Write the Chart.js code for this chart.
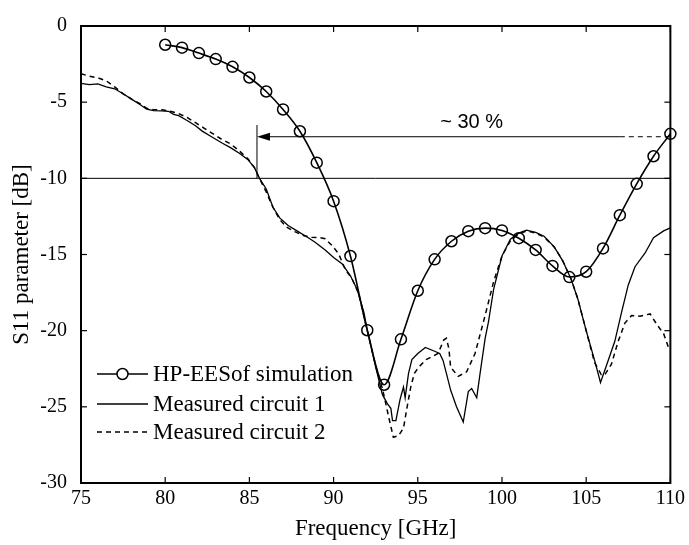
<!DOCTYPE html>
<html>
<head>
<meta charset="utf-8">
<script src="https://cdn.jsdelivr.net/npm/chart.js@4.4.0/dist/chart.umd.min.js"></script>
<style>
html,body{margin:0;padding:0;background:#fff;}
#wrap{width:689px;height:545px;}
</style>
</head>
<body>
<div id="wrap"><canvas id="c" width="689" height="545"></canvas></div>
<script>
// ---------------- DATA ----------------
const seriesNames = ['HP-EESof simulation', 'Measured circuit 1', 'Measured circuit 2'];

const simFreq = [80,81,82,83,84,85,86,87,88,89,90,91,92,93,94,95,96,97,98,99,100,101,102,103,104,105,106,107,108,109,110];
const simDb   = [-1.23,-1.42,-1.78,-2.17,-2.68,-3.38,-4.3,-5.48,-6.91,-8.97,-11.5,-15.1,-19.97,-23.55,-20.57,-17.38,-15.32,-14.13,-13.47,-13.27,-13.42,-13.93,-14.7,-15.75,-16.48,-16.13,-14.6,-12.42,-10.36,-8.55,-7.08];

const m1Freq = [75.0,75.5,76.0,76.5,77.0,77.5,78.0,78.5,78.9,79.3,79.8,80.2,80.5,80.8,81.3,81.8,82.2,82.8,83.4,83.9,84.4,84.9,85.3,85.6,86.0,86.4,86.8,87.3,87.9,88.5,88.9,89.5,90.0,90.5,91.0,91.4,91.8,92.0,92.5,92.9,93.2,93.4,93.5,93.7,93.95,94.15,94.25,94.45,94.65,95.0,95.45,96.0,96.3,96.5,96.7,96.95,97.3,97.7,98.0,98.2,98.5,98.7,99.0,99.2,99.5,100.0,100.5,101.0,101.45,102.0,102.5,103.1,103.6,104.1,104.5,105.0,105.5,105.85,106.2,106.7,107.1,107.5,107.9,108.5,109.0,109.6,110.0];
const m1Db   = [-3.76,-3.85,-3.8,-4.0,-4.12,-4.45,-4.8,-5.15,-5.46,-5.55,-5.57,-5.6,-5.8,-5.89,-6.2,-6.55,-6.9,-7.3,-7.7,-8.0,-8.35,-8.76,-9.3,-10.0,-10.7,-11.9,-12.6,-13.1,-13.5,-13.9,-14.2,-14.7,-15.2,-15.6,-16.4,-17.3,-18.8,-19.97,-22.4,-24.2,-24.8,-25.1,-25.9,-25.9,-24.5,-23.7,-24.4,-22.8,-21.9,-21.5,-21.1,-21.35,-21.5,-21.95,-22.8,-23.9,-25.0,-26.0,-24.0,-23.8,-24.4,-22.8,-20.5,-19.4,-17.3,-15.1,-14.0,-13.6,-13.4,-13.55,-13.8,-14.5,-15.4,-16.6,-17.9,-20.0,-21.95,-23.4,-22.3,-20.7,-18.8,-17.0,-15.8,-14.9,-13.9,-13.45,-13.25];

const m2Freq = [75.0,75.5,76.0,76.5,77.0,77.5,78.0,78.5,78.9,79.3,79.8,80.3,80.8,81.3,81.8,82.3,82.8,83.3,83.9,84.4,84.9,85.3,85.6,86.0,86.4,86.8,87.2,87.7,88.2,88.7,89.2,89.5,89.9,90.3,90.7,91.1,91.5,92.0,92.5,92.9,93.3,93.55,93.85,94.15,94.4,94.6,94.8,95.05,95.5,95.85,96.2,96.55,96.7,96.85,96.95,97.4,97.9,98.4,99.0,99.5,100.0,100.5,101.0,101.45,102.0,102.5,103.1,103.6,104.1,104.5,105.0,105.5,105.9,106.1,106.5,106.9,107.3,107.7,108.2,108.8,109.2,109.6,109.95];
const m2Db   = [-3.13,-3.3,-3.4,-3.6,-4.0,-4.45,-4.8,-5.1,-5.4,-5.5,-5.5,-5.6,-5.75,-6.0,-6.35,-6.7,-7.05,-7.4,-7.75,-8.2,-8.7,-9.3,-10.0,-10.9,-11.9,-12.7,-13.2,-13.5,-13.75,-13.87,-13.9,-13.97,-14.4,-14.95,-16.0,-16.6,-17.6,-20.0,-22.3,-23.8,-25.8,-27.0,-26.9,-26.4,-24.8,-23.6,-22.8,-22.4,-21.9,-21.7,-21.5,-20.6,-20.5,-21.2,-22.4,-23.0,-22.7,-21.5,-19.0,-16.8,-15.1,-14.1,-13.65,-13.45,-13.6,-13.85,-14.5,-15.4,-16.6,-17.9,-20.0,-22.1,-22.9,-22.9,-22.2,-20.7,-19.5,-19.0,-19.05,-18.9,-19.6,-20.2,-21.3];

const xTickValues = [75,80,85,90,95,100,105,110];
const yTickValues = [0,-5,-10,-15,-20,-25,-30];

// annotation values (data units)
const thresholdDb = -10;
const bandStartFreq = 85.45;
const bandMarkerTopDb = -6.5;
const bandArrowDb = -7.27;
const bandDashFromFreq = 107;
const bandLabel = '~ 30 %';
const bandLabelFreq = 98.2;
const bandLabelDb = -6.35;

// ---------------- CHART ----------------
const SERIF = '"Liberation Serif", "Times New Roman", serif';
const SANS = '"Liberation Sans", Arial, sans-serif';
const pts = (xs, ys) => xs.map((x, i) => ({x: x, y: ys[i]}));

const framePlugin = {
  id: 'frame',
  beforeDraw(chart) {
    const c = chart.ctx;
    c.save();
    c.fillStyle = '#fff';
    c.fillRect(0, 0, chart.width, chart.height);
    c.restore();
  },
  afterDatasetsDraw(chart) {
    const c = chart.ctx;
    const a = chart.chartArea;
    const xs = chart.scales.x, ys = chart.scales.y;
    const line = (x1, y1, x2, y2) => { c.beginPath(); c.moveTo(x1, y1); c.lineTo(x2, y2); c.stroke(); };
    c.save();
    c.strokeStyle = '#000';
    c.fillStyle = '#000';
    c.lineWidth = 1;
    // threshold line
    const yt = ys.getPixelForValue(thresholdDb);
    line(a.left, yt, a.right, yt);
    // vertical band marker
    const xb = xs.getPixelForValue(bandStartFreq);
    line(xb, yt, xb, ys.getPixelForValue(bandMarkerTopDb));
    // arrow
    const ya = ys.getPixelForValue(bandArrowDb);
    const xd = xs.getPixelForValue(bandDashFromFreq);
    line(xb + 8, ya, xd, ya);
    c.setLineDash([5, 4]);
    line(xd, ya, a.right, ya);
    c.setLineDash([]);
    c.beginPath();
    c.moveTo(xb, ya);
    c.lineTo(xb + 13, ya - 4);
    c.lineTo(xb + 13, ya + 4);
    c.closePath();
    c.fill();
    // band label
    c.font = '20px ' + SANS;
    c.textAlign = 'center';
    c.textBaseline = 'middle';
    c.fillText(bandLabel, xs.getPixelForValue(bandLabelFreq), ys.getPixelForValue(bandLabelDb));

    // frame
    c.lineWidth = 2;
    c.strokeRect(a.left, a.top, a.right - a.left, a.bottom - a.top);
    // inward ticks on all four sides
    c.lineWidth = 1.2;
    const tl = 6;
    xTickValues.forEach(v => {
      const px = xs.getPixelForValue(v);
      line(px, a.bottom, px, a.bottom - tl);
      line(px, a.top, px, a.top + tl);
    });
    yTickValues.forEach(v => {
      const py = ys.getPixelForValue(v);
      line(a.left, py, a.left + tl, py);
      line(a.right, py, a.right - tl, py);
    });

    // legend
    const ds = chart.data.datasets;
    const rows = [374, 404, 432];
    const lx1 = 97, lx2 = 148, tx = 153;
    c.font = '23px ' + SERIF;
    c.textAlign = 'left';
    c.textBaseline = 'middle';
    ds.forEach((d, i) => {
      const yy = rows[i];
      c.lineWidth = d.borderWidth;
      c.setLineDash(d.borderDash || []);
      line(lx1, yy, lx2, yy);
      c.setLineDash([]);
      if (d.pointRadius > 0) {
        c.fillStyle = '#fff';
        c.beginPath();
        c.arc((lx1 + lx2) / 2, yy, d.pointRadius, 0, Math.PI * 2);
        c.fill();
        c.lineWidth = d.pointBorderWidth;
        c.stroke();
      }
      c.fillStyle = '#000';
      c.fillText(d.label, tx, yy + 1);
    });
    c.restore();
  }
};

new Chart(document.getElementById('c'), {
  type: 'line',
  data: {
    datasets: [
      {label: seriesNames[0], data: pts(simFreq, simDb), borderColor: '#000', borderWidth: 1.6,
       pointRadius: 5.5, pointBorderColor: '#000', pointBorderWidth: 1.5, pointBackgroundColor: 'rgba(0,0,0,0)',
       cubicInterpolationMode: 'monotone', fill: false, clip: false},
      {label: seriesNames[1], data: pts(m1Freq, m1Db), borderColor: '#000', borderWidth: 1.3,
       pointRadius: 0, tension: 0, fill: false},
      {label: seriesNames[2], data: pts(m2Freq, m2Db), borderColor: '#000', borderWidth: 1.5, borderDash: [5, 4],
       pointRadius: 0, tension: 0, fill: false}
    ]
  },
  options: {
    responsive: false,
    animation: false,
    events: [],
    layout: {padding: {top: 13, right: 16, left: 0, bottom: 0}},
    plugins: {legend: {display: false}, tooltip: {enabled: false}},
    scales: {
      x: {
        type: 'linear', min: 75, max: 110,
        afterBuildTicks: s => { s.ticks = xTickValues.map(v => ({value: v})); },
        afterFit: s => { s.height = 62; },
        grid: {display: false, drawTicks: false},
        border: {display: false},
        ticks: {padding: 4, color: '#000', font: {family: SERIF, size: 20}, maxRotation: 0, autoSkip: false, callback: v => String(v)},
        title: {display: true, text: 'Frequency [GHz]', color: '#000', font: {family: SERIF, size: 23}, padding: {top: 0, bottom: 2}}
      },
      y: {
        type: 'linear', min: -30, max: 0,
        afterBuildTicks: s => { s.ticks = yTickValues.map(v => ({value: v})); },
        afterFit: s => { s.width = 81; },
        grid: {display: false, drawTicks: false},
        border: {display: false},
        ticks: {padding: 14, color: '#000', font: {family: SERIF, size: 20}, autoSkip: false, callback: v => String(v)},
        title: {display: true, text: 'S11 parameter [dB]', color: '#000', font: {family: SERIF, size: 23}, padding: {top: 8, bottom: 0}}
      }
    }
  },
  plugins: [framePlugin]
});
</script>
</body>
</html>
